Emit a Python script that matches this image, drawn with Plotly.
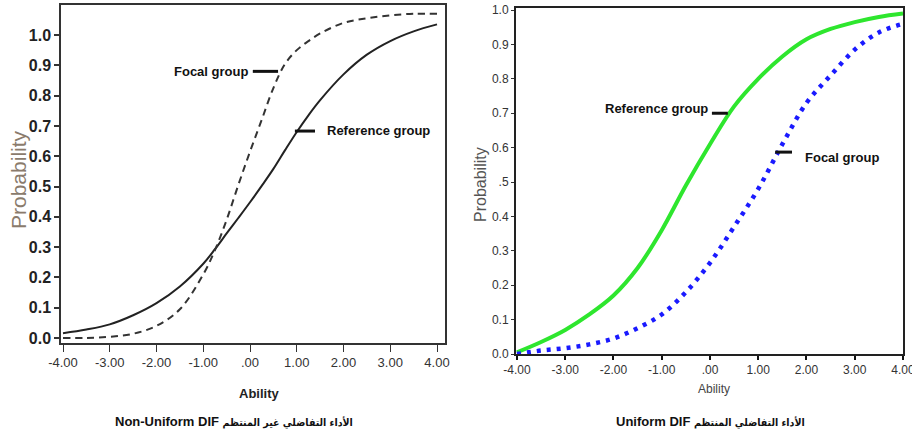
import plotly.graph_objects as go

# ---------------- data ----------------
ability_left = [-4, -3.5, -3, -2.5, -2, -1.5, -1, -0.75, -0.5, -0.25, 0, 0.25, 0.5, 0.75, 1, 1.25, 1.5, 2, 2.5, 3, 3.5, 4]
reference_left = [0.016, 0.028, 0.045, 0.075, 0.115, 0.17, 0.245, 0.293, 0.345, 0.396, 0.448, 0.502, 0.558, 0.62, 0.68, 0.735, 0.785, 0.87, 0.935, 0.98, 1.012, 1.035]
focal_left = [0.0, 0.0, 0.004, 0.014, 0.04, 0.095, 0.21, 0.29, 0.39, 0.505, 0.615, 0.72, 0.825, 0.905, 0.95, 0.98, 1.005, 1.04, 1.055, 1.065, 1.07, 1.07]

ability_right = [-4, -3.5, -3, -2.5, -2, -1.5, -1, -0.5, 0, 0.5, 1, 1.5, 2, 2.5, 3, 3.5, 4]
reference_right = [0.005, 0.035, 0.07, 0.115, 0.17, 0.25, 0.36, 0.49, 0.61, 0.72, 0.80, 0.865, 0.915, 0.945, 0.965, 0.98, 0.99]
focal_right = [0.0, 0.01, 0.017, 0.028, 0.045, 0.075, 0.115, 0.18, 0.265, 0.37, 0.48, 0.61, 0.73, 0.81, 0.885, 0.935, 0.96]

x_ticks = [-4, -3, -2, -1, 0, 1, 2, 3, 4]
x_tick_labels = ["-4.00", "-3.00", "-2.00", "-1.00", ".00", "1.00", "2.00", "3.00", "4.00"]
y_ticks = [0, 0.1, 0.2, 0.3, 0.4, 0.5, 0.6, 0.7, 0.8, 0.9, 1.0]
y_tick_labels_left = ["0.0", "0.1", "0.2", "0.3", "0.4", "0.5", "0.6", "0.7", "0.8", "0.9", "1.0"]
y_tick_labels_right = ["0.0", "0.1", "0.2", "0.3", "0.4", ".5", "0.6", "0.7", "0.8", "0.9", "1.0"]

W, H = 912, 437
NARROW = "Liberation Sans Narrow, Arial Narrow, Liberation Sans, Arial, sans-serif"
SANS = "Liberation Sans, Arial, DejaVu Sans, sans-serif"
ARABIC_SPAN = "font-family:'DejaVu Sans Condensed','DejaVu Sans',sans-serif;font-size:10.5px"

LX = [-4.043, 4.171]
LY = [-0.0165, 1.099]
RX = [-4.02, 4.0]
RY = [0, 1.006]

fig = go.Figure()
fig.add_trace(go.Scatter(x=ability_left, y=reference_left, mode="lines", line=dict(color="#222222", width=2, shape="spline"),
                         xaxis="x", yaxis="y", showlegend=False))
fig.add_trace(go.Scatter(x=ability_left, y=focal_left, mode="lines", line=dict(color="#333333", width=2, dash="7px,5px", shape="spline"),
                         xaxis="x", yaxis="y", showlegend=False))
fig.add_trace(go.Scatter(x=ability_right, y=reference_right, mode="lines", line=dict(color="#2ee62e", width=4, shape="spline"),
                         xaxis="x2", yaxis="y2", showlegend=False))
fig.add_trace(go.Scatter(x=ability_right, y=focal_right, mode="lines", line=dict(color="#1a1aff", width=4.5, dash="4px,6px", shape="spline"),
                         xaxis="x2", yaxis="y2", showlegend=False))


def px2paper_x(p):
    return p / W


def px2paper_y(p):
    return 1 - p / H


common = dict(showgrid=False, zeroline=False, automargin=False)

fig.update_layout(
    width=W, height=H,
    margin=dict(l=0, r=0, t=0, b=0, autoexpand=False),
    paper_bgcolor="white", plot_bgcolor="white",
    hovermode=False,
    xaxis=dict(domain=[px2paper_x(61), px2paper_x(445)], range=LX,
               tickmode="array", tickvals=x_ticks, ticktext=x_tick_labels,
               ticks="outside", ticklen=7, tickcolor="#333", tickwidth=1.2,
               showline=True, linecolor="#333", linewidth=1.5, mirror=True,
               tickfont=dict(family=NARROW, size=13, color="#333"), anchor="y", **common),
    yaxis=dict(domain=[px2paper_y(343), px2paper_y(5)], range=LY,
               tickmode="array", tickvals=y_ticks, ticktext=y_tick_labels_left,
               ticks="outside", ticklen=5, tickcolor="#333", tickwidth=1.5,
               showline=True, linecolor="#333", linewidth=1.5, mirror=True,
               tickfont=dict(family=NARROW, size=16, color="#222", weight="bold"), anchor="x", **common),
    # minor tick overlays (left)
    xaxis3=dict(overlaying="x", anchor="y", range=LX, tickmode="linear", tick0=-4, dtick=0.1,
                ticks="outside", ticklen=4, tickcolor="#444", showticklabels=False, showline=False, **common),
    yaxis3=dict(overlaying="y", anchor="x", side="left", range=LY, tickmode="linear", tick0=0, dtick=0.05,
                ticks="outside", ticklen=3, tickcolor="#444", showticklabels=False, showline=False, **common),
    xaxis2=dict(domain=[px2paper_x(516), px2paper_x(903)], range=RX,
                tickmode="array", tickvals=x_ticks, ticktext=x_tick_labels,
                ticks="outside", ticklen=4, tickcolor="#111", tickwidth=2, ticklabeloverflow="allow",
                showline=True, linecolor="#222", linewidth=2, mirror=True,
                tickfont=dict(family=SANS, size=12, color="#333"), anchor="y2", **common),
    yaxis2=dict(domain=[px2paper_y(354), px2paper_y(8)], range=RY,
                tickmode="array", tickvals=y_ticks, ticktext=y_tick_labels_right,
                ticks="outside", ticklen=3, tickcolor="#333", tickwidth=1,
                showline=True, linecolor="#222", linewidth=2, mirror=True,
                tickfont=dict(family=SANS, size=12, color="#333"), anchor="x2", **common),
    xaxis4=dict(overlaying="x2", anchor="y2", range=RX, tickmode="linear", tick0=-4, dtick=0.5,
                ticks="outside", ticklen=3, tickcolor="#222", showticklabels=False, showline=False, **common),
)

ann = []
# axis titles
ann.append(dict(text="Probability", x=px2paper_x(18), y=px2paper_y(180), xref="paper", yref="paper", textangle=-90,
                xanchor="center", yanchor="middle", showarrow=False, font=dict(family=SANS, size=21, color="#8a7b6c")))
ann.append(dict(text="Probability", x=px2paper_x(480), y=px2paper_y(185), xref="paper", yref="paper", textangle=-90,
                xanchor="center", yanchor="middle", showarrow=False, font=dict(family=SANS, size=16, color="#555")))
ann.append(dict(text="<b>Ability</b>", x=px2paper_x(259), y=px2paper_y(393), xref="paper", yref="paper",
                xanchor="center", yanchor="middle", showarrow=False, font=dict(family=NARROW, size=13, color="#222")))
ann.append(dict(text="Ability", x=px2paper_x(714), y=px2paper_y(389), xref="paper", yref="paper",
                xanchor="center", yanchor="middle", showarrow=False, font=dict(family=NARROW, size=12, color="#444")))
ann.append(dict(text=f"<b>Non-Uniform DIF <span style=\"{ARABIC_SPAN}\">الأداء التفاضلي غير المنتظم</span></b>",
                x=px2paper_x(234), y=px2paper_y(421), xref="paper", yref="paper",
                xanchor="center", yanchor="middle", showarrow=False, font=dict(family=SANS, size=13, color="#111")))
ann.append(dict(text=f"<b>Uniform DIF <span style=\"{ARABIC_SPAN}\">الأداء التفاضلي المنتظم</span></b>",
                x=px2paper_x(710), y=px2paper_y(421), xref="paper", yref="paper",
                xanchor="center", yanchor="middle", showarrow=False, font=dict(family=SANS, size=13, color="#111")))
# curve labels
ann.append(dict(text="<b>Focal group</b>", x=0.0, y=0.88, xref="x", yref="y", xanchor="right", yanchor="middle", showarrow=False,
                font=dict(family=NARROW, size=13, color="#111")))
ann.append(dict(text="<b>Reference group</b>", x=1.6, y=0.686, xref="x", yref="y", xanchor="left", yanchor="middle", showarrow=False,
                font=dict(family=NARROW, size=13, color="#111")))
ann.append(dict(text="<b>Reference group</b>", x=0.0, y=0.715, xref="x2", yref="y2", xanchor="right", yanchor="middle", showarrow=False,
                font=dict(family=NARROW, size=13, color="#111")))
ann.append(dict(text="<b>Focal group</b>", x=1.93, y=0.57, xref="x2", yref="y2", xanchor="left", yanchor="middle", showarrow=False,
                font=dict(family=NARROW, size=13, color="#111")))
fig.update_layout(annotations=ann)

shapes = [
    dict(type="line", xref="x", yref="y", x0=0.06, x1=0.6, y0=0.88, y1=0.88, line=dict(color="#111", width=3)),
    dict(type="line", xref="x", yref="y", x0=0.96, x1=1.39, y0=0.683, y1=0.683, line=dict(color="#111", width=3)),
    dict(type="line", xref="x2", yref="y2", x0=0.04, x1=0.37, y0=0.70, y1=0.70, line=dict(color="#111", width=3)),
    dict(type="line", xref="x2", yref="y2", x0=1.35, x1=1.70, y0=0.587, y1=0.587, line=dict(color="#111", width=3)),
]
fig.update_layout(shapes=shapes)

# remove the default 8px page margin so the figure sits at the window's top-left corner
fig.write_html("out.html", config={"displayModeBar": False},
               post_script="document.body.style.margin='0';")
